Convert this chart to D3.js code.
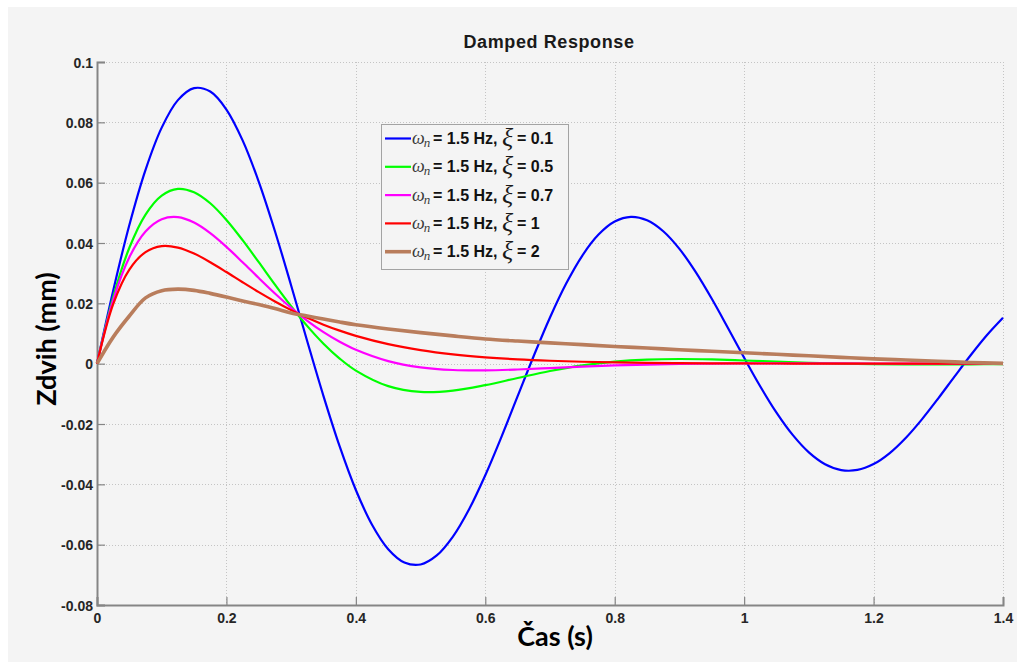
<!DOCTYPE html>
<html>
<head>
<meta charset="utf-8">
<script src="https://cdn.jsdelivr.net/npm/d3@7/dist/d3.min.js"></script>
<style>
  html, body { margin: 0; padding: 0; background: #ffffff; }
  svg { display: block; }
</style>
</head>
<body>
<svg id="chart" width="1017" height="662"></svg>
<script>
// ---------------- data ----------------
const title = "Damped Response";
const xLabel = "Čas (s)";
const yLabel = "Zdvih (mm)";

// time samples for the lightly damped (oscillating) curve
const timeFine = [0, 0.025, 0.05, 0.075, 0.1, 0.125, 0.15, 0.175, 0.2, 0.225, 0.25, 0.275, 0.3, 0.325, 0.35, 0.375, 0.4,
  0.425, 0.45, 0.475, 0.5, 0.525, 0.55, 0.575, 0.6, 0.625, 0.65, 0.675, 0.7, 0.725, 0.75, 0.775, 0.8, 0.825, 0.85, 0.875,
  0.9, 0.925, 0.95, 0.975, 1.0, 1.025, 1.05, 1.075, 1.1, 1.125, 1.15, 1.175, 1.2, 1.225, 1.25, 1.275, 1.3, 1.325, 1.35, 1.375, 1.4];

// time samples for the other curves
const time = [0, 0.025, 0.05, 0.075, 0.1, 0.125, 0.15, 0.175, 0.2, 0.225, 0.25, 0.275, 0.3, 0.325, 0.35, 0.375, 0.4,
  0.45, 0.5, 0.55, 0.6, 0.65, 0.7, 0.75, 0.8, 0.85, 0.9, 0.95, 1.0, 1.05, 1.1, 1.15, 1.2, 1.25, 1.3, 1.35, 1.4];

const zeta01 = [0, 0.0242, 0.04597, 0.06426, 0.07824, 0.08736, 0.09134, 0.0902, 0.08425, 0.07403, 0.06028, 0.04391, 0.02592, 0.00736, -0.01074, -0.02743, -0.04187,
  -0.05339, -0.06149, -0.0659, -0.06656, -0.06358, -0.05732, -0.04825, -0.03699, -0.02425, -0.01079, 0.00263, 0.0153, 0.02655, 0.03585, 0.04279, 0.0471, 0.04867, 0.04754, 0.0439,
  0.03805, 0.03042, 0.0215, 0.01183, 0.00196, -0.00756, -0.01623, -0.02362, -0.0294, -0.03333, -0.03528, -0.03523, -0.03329, -0.02963, -0.02455, -0.01837, -0.01149, -0.0043, 0.00278, 0.0094, 0.0152];

const zeta05 = [0, 0.02207, 0.03842, 0.04944, 0.05572, 0.05794, 0.05683, 0.05317, 0.04765, 0.04095, 0.03363, 0.0262, 0.01904, 0.01244, 0.00662, 0.00169, -0.00229,
  -0.00745, -0.00937, -0.00895, -0.00713, -0.00475, -0.00244, -0.00058, 0.00069, 0.00136, 0.00154, 0.00139, 0.00105, 0.00066, 0.0003, 0.00002, -0.00016, -0.00024, -0.00025, -0.00021, -0.00015];

const zeta07 = [0, 0.0211, 0.03528, 0.04381, 0.04788, 0.04856, 0.04676, 0.04326, 0.03871, 0.03362, 0.02838, 0.02327, 0.0185, 0.0142, 0.01044, 0.00725, 0.00461,
  0.00086, -0.00122, -0.0021, -0.00222, -0.00193, -0.00147, -0.001, -0.00059, -0.00029, -0.00009, 0.00003, 0.00009, 0.0001, 0.00009, 0.00008, 0.00005, 0.00003, 0.00002, 0, 0];

const zeta1 = [0, 0.01975, 0.03121, 0.03699, 0.03897, 0.03848, 0.03649, 0.03363, 0.03037, 0.02699, 0.0237, 0.0206, 0.01775, 0.01519, 0.01293, 0.01094, 0.00922,
  0.00648, 0.00449, 0.00308, 0.0021, 0.00142, 0.00096, 0.00064, 0.00043, 0.00028, 0.00019, 0.00012, 0.00008, 0.00005, 0.00003, 0.00002, 0.00001, 0.00001, 0, 0, 0];

const zeta2 = [0, 0.0088, 0.0158, 0.0218, 0.0242, 0.0247, 0.0243, 0.0233, 0.0221, 0.0208, 0.0196, 0.0183, 0.0168, 0.0158, 0.0148, 0.0138, 0.0129,
  0.0115, 0.0103, 0.0092, 0.0082, 0.0075, 0.0069, 0.0063, 0.0057, 0.0052, 0.0046, 0.0041, 0.0036, 0.0031, 0.0026, 0.0021, 0.0016, 0.0012, 0.0008, 0.0004, 0.0001];

const zetaLabels = ["0.1", "0.5", "0.7", "1", "2"];
const seriesColors = ["#0000ff", "#00ff00", "#ff00ff", "#ff0000", "#b97d5c"];
const seriesWidths = [2.2, 2.2, 2.2, 2.2, 3.6];

const xTicks = [0, 0.2, 0.4, 0.6, 0.8, 1, 1.2, 1.4];
const xTickLabels = ["0", "0.2", "0.4", "0.6", "0.8", "1", "1.2", "1.4"];
const yTicks = [-0.08, -0.06, -0.04, -0.02, 0, 0.02, 0.04, 0.06, 0.08, 0.1];
const yTickLabels = ["-0.08", "-0.06", "-0.04", "-0.02", "0", "0.02", "0.04", "0.06", "0.08", "0.1"];

// ---------------- layout ----------------
const svg = d3.select("#chart");
const W = 1017, H = 662;
const plot = { left: 97, right: 1003, top: 62, bottom: 605 };

svg.append("rect").attr("x", 8).attr("y", 7).attr("width", W - 8).attr("height", H - 7).attr("fill", "#f4f4f4");

const x = d3.scaleLinear().domain([0, 1.4]).range([plot.left, plot.right]);
const y = d3.scaleLinear().domain([-0.08, 0.1]).range([plot.bottom, plot.top]);

// grid
const grid = svg.append("g").attr("stroke", "#c4c4c4").attr("stroke-width", 1).attr("stroke-dasharray", "1,2");
grid.selectAll("line.gx").data(xTicks.slice(1)).join("line")
  .attr("x1", d => Math.round(x(d)) + 0.5).attr("x2", d => Math.round(x(d)) + 0.5)
  .attr("y1", plot.top).attr("y2", plot.bottom);
grid.selectAll("line.gy").data(yTicks.slice(1)).join("line")
  .attr("y1", d => Math.round(y(d)) + 0.5).attr("y2", d => Math.round(y(d)) + 0.5)
  .attr("x1", plot.left).attr("x2", plot.right);

// axes
const fontTick = "bold 14px 'Liberation Sans', Arial, sans-serif";
const xAxis = d3.axisBottom(x).tickValues(xTicks).tickFormat((d, i) => xTickLabels[i]).tickSize(-8).tickPadding(8);
const yAxis = d3.axisLeft(y).tickValues(yTicks).tickFormat((d, i) => yTickLabels[i]).tickSize(-8).tickPadding(4);

const gx = svg.append("g").attr("transform", `translate(0,${plot.bottom})`).call(xAxis);
const gy = svg.append("g").attr("transform", `translate(${plot.left},0)`).call(yAxis);
[gx, gy].forEach(g => {
  g.select(".domain").attr("stroke", "#858585").attr("stroke-width", 2);
  g.selectAll(".tick line").attr("stroke", "#858585").attr("stroke-width", 1.2);
  g.selectAll(".tick text").style("font", fontTick).attr("fill", "#262626");
});
gy.selectAll(".tick text").attr("dy", "0.36em");

// lines
const seriesData = [
  timeFine.map((t, j) => [t, zeta01[j]]),
  time.map((t, j) => [t, zeta05[j]]),
  time.map((t, j) => [t, zeta07[j]]),
  time.map((t, j) => [t, zeta1[j]]),
  time.map((t, j) => [t, zeta2[j]])
];
const line = d3.line().x(d => x(d[0])).y(d => y(d[1])).curve(d3.curveCatmullRom.alpha(0.5));
seriesData.forEach((pts, i) => {
  svg.append("path")
    .datum(pts)
    .attr("fill", "none")
    .attr("stroke", seriesColors[i])
    .attr("stroke-width", seriesWidths[i])
    .attr("stroke-linejoin", "round")
    .attr("d", line);
});

// title
svg.append("text").attr("x", 549).attr("y", 48).attr("text-anchor", "middle")
  .style("font", "bold 18px 'Liberation Sans', Arial, sans-serif").attr("fill", "#1a1a1a")
  .style("letter-spacing", "0.6px")
  .text(title);

// axis labels
svg.append("text").attr("x", 555).attr("y", 646).attr("text-anchor", "middle")
  .style("font", "bold 27px Lato, 'Open Sans', sans-serif").attr("fill", "#000")
  .text(xLabel);
svg.append("text").attr("transform", "translate(56,339) rotate(-90)").attr("text-anchor", "middle")
  .style("font", "bold 27px Lato, 'Open Sans', sans-serif").attr("fill", "#000")
  .text(yLabel);

// legend
const lg = svg.append("g");
lg.append("rect").attr("x", 381.5).attr("y", 124.5).attr("width", 187).attr("height", 145)
  .attr("fill", "#f4f4f4").attr("stroke", "#a3a3a3").attr("stroke-width", 1);
zetaLabels.forEach((z, i) => {
  const cy = 138.5 + i * 28.3;
  lg.append("line").attr("x1", 385).attr("x2", 411).attr("y1", cy).attr("y2", cy)
    .attr("stroke", seriesColors[i]).attr("stroke-width", seriesWidths[i]);
  const base = cy + 5.5;
  const t1 = lg.append("text").attr("x", 412).attr("y", base).attr("fill", "#3a3a3a");
  t1.append("tspan").style("font", "italic 18px 'Liberation Serif', 'DejaVu Serif', serif").text("ω");
  t1.append("tspan").attr("dy", 3).attr("dx", -1).style("font", "italic 13px 'Liberation Serif', 'DejaVu Serif', serif").text("n");
  lg.append("text").attr("x", 433).attr("y", base).attr("fill", "#111")
    .style("font", "bold 16px 'Liberation Sans', Arial, sans-serif").text("= 1.5 Hz,");
  lg.append("text").attr("x", 502).attr("y", base + 2).attr("fill", "#1a1a1a")
    .style("font", "italic 26px 'Liberation Serif', 'DejaVu Serif', serif").text("ξ");
  lg.append("text").attr("x", 517).attr("y", base).attr("fill", "#111")
    .style("font", "bold 16px 'Liberation Sans', Arial, sans-serif").text("= " + z);
});
</script>
</body>
</html>
